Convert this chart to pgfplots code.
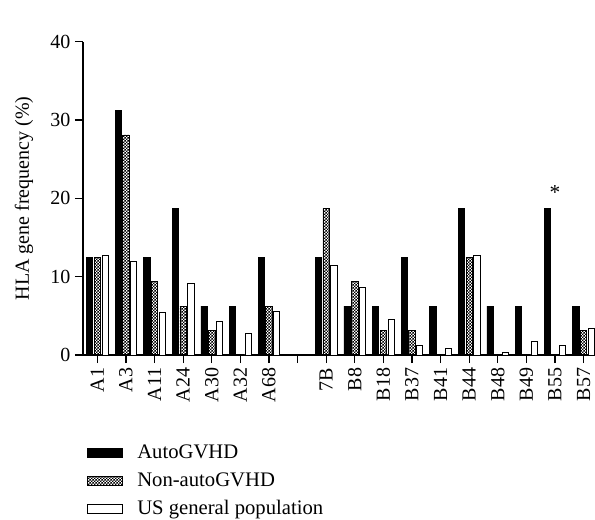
\documentclass[border=0pt]{standalone}
\usepackage{fontspec}
\setmainfont{Liberation Serif}
\usepackage{pgfplots}
\pgfplotsset{compat=1.18}
\usetikzlibrary{patterns.meta}
\pgfdeclarepattern{name=mycheck, type=uncolored,
  bottom left={\pgfpoint{0pt}{0pt}}, top right={\pgfpoint{2.2pt}{2.2pt}},
  tile size={\pgfpoint{2.2pt}{2.2pt}},
  code={\pgfpathrectangle{\pgfpoint{0pt}{0pt}}{\pgfpoint{1.1pt}{1.1pt}}
        \pgfpathrectangle{\pgfpoint{1.1pt}{1.1pt}}{\pgfpoint{1.1pt}{1.1pt}}
        \pgfusepath{fill}}}
\pgfplotstableread{
x auto non us
0 12.5 12.5 12.7
1 31.25 28.1 11.9
2 12.5 9.4 5.5
3 18.75 6.25 9.2
4 6.25 3.1 4.3
5 6.25 nan 2.8
6 12.5 6.25 5.6
8 12.5 18.75 11.4
9 6.25 9.4 8.7
10 6.25 3.1 4.5
11 12.5 3.1 1.2
12 6.25 nan 0.9
13 18.75 12.5 12.7
14 6.25 nan 0.3
15 6.25 nan 1.7
16 18.75 nan 1.2
17 6.25 3.1 3.4
}\datatable
\begin{document}
\begin{tikzpicture}
\path[use as bounding box] (-62.25pt,-123.75pt) rectangle (384pt,266.25pt);
\begin{axis}[
  scale only axis, width=384pt, height=235pt,
  at={(0,0)}, anchor=south west,
  axis lines=left, axis line style={line width=0.9pt, -},
  xmin=-0.5, xmax=17.4, ymin=0, ymax=40,
  ytick={0,10,20,30,40},
  xtick={0,...,17},
  xticklabels={A1,A3,A11,A24,A30,A32,A68,,7B,B8,B18,B37,B41,B44,B48,B49,B55,B57},
  x tick label style={rotate=90, anchor=east},
  tick align=outside, major tick length=6pt,
  tick style={line width=0.9pt, black},
  tick label style={font=\fontsize{15}{17}\selectfont},
  /pgf/number format/assume math mode=true,
  unbounded coords=discard,
  ylabel={HLA gene frequency (\%)},
  ylabel style={font=\fontsize{15}{17}\selectfont, xshift=0pt},
  every axis y label/.append style={at={(ticklabel cs:0.5)}, yshift=6pt},
  ybar, bar width=0.22,
  legend style={at={(axis description cs:0.0,-0.27)}, anchor=north west,
    draw=none, font=\fontsize{15.5}{18}\selectfont, row sep=5pt,
    legend cell align=left, /tikz/every odd column/.style={column sep=9pt}},
  legend image code/.code={\draw[#1, line width=0.5pt] (0pt,-3.3pt) rectangle (26pt,3.3pt);},
  clip=false,
]
\addplot[draw=black, fill=black, line width=0.5pt, bar shift=-0.27] table[x=x, y=auto] {\datatable};
\addplot[draw=black, pattern=mycheck, pattern color=black, line width=0.5pt, bar shift=0] table[x=x, y=non] {\datatable};
\addplot[draw=black, fill=white, line width=0.5pt, bar shift=0.27] table[x=x, y=us] {\datatable};
\legend{AutoGVHD, Non-autoGVHD, US general population}
\node[font=\fontsize{16}{16}\selectfont, anchor=south] at (axis cs:16,19.2) {*};
\end{axis}
\end{tikzpicture}
\end{document}
